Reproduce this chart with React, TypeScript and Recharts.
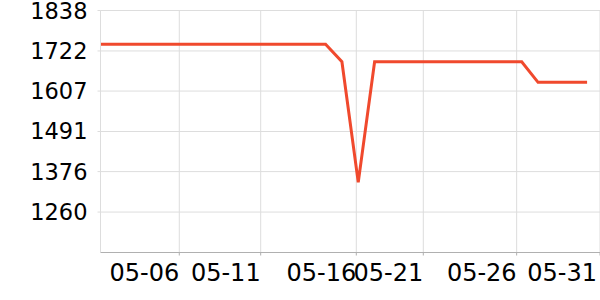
import { LineChart, Line, XAxis, YAxis, CartesianGrid } from "recharts";

// daily closing values, May 1 - May 31
const dates = [
  "05-01", "05-02", "05-03", "05-04", "05-05", "05-06", "05-07", "05-08",
  "05-09", "05-10", "05-11", "05-12", "05-13", "05-14", "05-15", "05-16",
  "05-17", "05-18", "05-19", "05-20", "05-21", "05-22", "05-23", "05-24",
  "05-25", "05-26", "05-27", "05-28", "05-29", "05-30", "05-31",
];
const values = [
  1741, 1741, 1741, 1741, 1741, 1741, 1741, 1741,
  1741, 1741, 1741, 1741, 1741, 1741, 1741, 1691,
  1345, 1691, 1691, 1691, 1691, 1691, 1691, 1691,
  1691, 1691, 1691, 1632, 1632, 1632, 1632,
];

// x ticks (day of month, time axis) and their labels
const xTicks = [6.05, 11.03, 16.88, 20.98, 26.69, 31.79];
const xTickLabels = ["05-06", "05-11", "05-16", "05-21", "05-26", "05-31"];
const yTicks = [1260, 1376, 1491, 1607, 1722, 1838];

const data = dates.map((d, i) => ({ date: d, day: i + 1, value: values[i] }));

const FONT = "'DejaVu Sans', sans-serif";

function XTick(props: any) {
  const { x, y, payload } = props;
  const idx = xTicks.indexOf(payload.value);
  // keep the last label inside the canvas
  const tx = Math.min(x, 597);
  return (
    <text x={tx} y={y} dy="0.71em" textAnchor="end" fill="#000" fontSize={24} fontFamily={FONT}>
      {xTickLabels[idx]}
    </text>
  );
}

export default function App() {
  return (
    <div style={{ position: "absolute", left: 0, top: 0 }}>
      <LineChart width={600} height={300} data={data} margin={{ top: 10.5, right: 0, left: 0, bottom: 0 }}>
        <CartesianGrid stroke="#dddddd" />
        <XAxis
          dataKey="day"
          type="number"
          domain={[1.23, 31.79]}
          allowDataOverflow
          ticks={xTicks}
          interval={0}
          height={47.5}
          stroke="#b0b0b0"
          tickSize={3}
          tickMargin={8}
          tick={<XTick />}
        />
        <YAxis
          type="number"
          domain={[1144, 1838]}
          ticks={yTicks}
          interval={0}
          width={100.5}
          stroke="#dddddd"
          tickSize={3}
          tickMargin={10}
          tick={{ fill: "#000", fontSize: 22.5, fontFamily: FONT }}
        />
        <Line
          type="linear"
          dataKey="value"
          stroke="#F0492D"
          strokeWidth={3}
          dot={false}
          isAnimationActive={false}
        />
      </LineChart>
    </div>
  );
}
